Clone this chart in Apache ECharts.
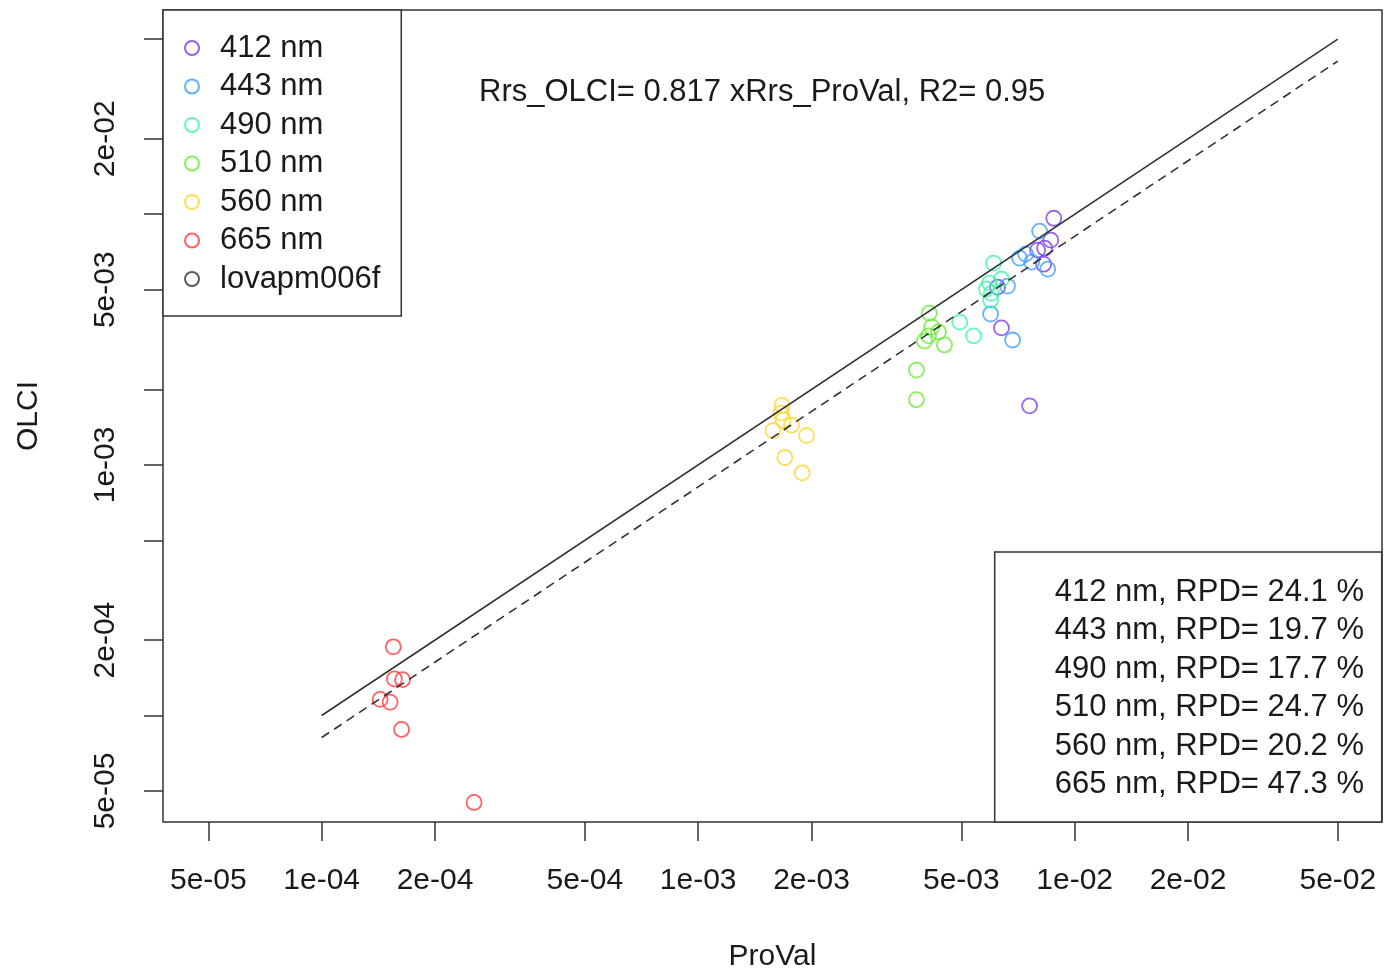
<!DOCTYPE html>
<html>
<head>
<meta charset="utf-8">
<title>OLCI vs ProVal</title>
<script src="https://cdn.jsdelivr.net/npm/echarts@6/dist/echarts.min.js"></script>
<style>html,body{margin:0;padding:0;background:#fff;}</style>
</head>
<body>
<div id="chart" style="width:1384px;height:970px;"></div>
<script>
// log ticks, same on both axes (R skips every other label on y, they would overlap)
var tickValues = [5e-5, 1e-4, 2e-4, 5e-4, 1e-3, 2e-3, 5e-3, 1e-2, 2e-2, 5e-2];
var tickLabels = ['5e-05', '1e-04', '2e-04', '5e-04', '1e-03', '2e-03', '5e-03', '1e-02', '2e-02', '5e-02'];
var yLabelValues = [5e-5, 2e-4, 1e-3, 5e-3, 2e-2];

var bands = ['412 nm', '443 nm', '490 nm', '510 nm', '560 nm', '665 nm', 'lovapm006f'];
var bandColors = ['#7a3df5', '#3d9eff', '#3df5a8', '#66ee33', '#ffd52e', '#ff3b3b', '#333333'];

// [ProVal, OLCI] pairs
var pts412 = [[8.80e-3, 9.64e-3], [8.64e-3, 7.88e-3], [8.32e-3, 7.32e-3], [7.97e-3, 7.19e-3],
              [8.27e-3, 6.32e-3], [6.24e-3, 5.12e-3], [6.39e-3, 3.52e-3], [7.59e-3, 1.72e-3]];
var pts443 = [[8.07e-3, 8.56e-3], [7.14e-3, 6.68e-3], [7.41e-3, 6.93e-3], [7.69e-3, 6.44e-3],
              [8.48e-3, 6.04e-3], [6.63e-3, 5.17e-3], [5.98e-3, 4.00e-3], [6.84e-3, 3.15e-3]];
var pts490 = [[6.09e-3, 6.38e-3], [6.39e-3, 5.51e-3], [5.94e-3, 5.31e-3], [5.83e-3, 5.03e-3],
              [6.01e-3, 4.84e-3], [5.98e-3, 4.54e-3], [4.95e-3, 3.71e-3], [5.39e-3, 3.27e-3]];
var pts510 = [[4.11e-3, 4.03e-3], [4.17e-3, 3.55e-3], [4.35e-3, 3.39e-3], [3.99e-3, 3.12e-3],
              [4.09e-3, 3.27e-3], [4.51e-3, 3.01e-3], [3.80e-3, 2.39e-3], [3.80e-3, 1.82e-3]];
var pts560 = [[1.67e-3, 1.73e-3], [1.66e-3, 1.61e-3], [1.68e-3, 1.51e-3], [1.77e-3, 1.44e-3],
              [1.58e-3, 1.37e-3], [1.94e-3, 1.31e-3], [1.70e-3, 1.07e-3], [1.89e-3, 9.29e-4]];
var pts665 = [[1.55e-4, 1.88e-4], [1.56e-4, 1.40e-4], [1.64e-4, 1.39e-4], [1.43e-4, 1.16e-4],
              [1.52e-4, 1.13e-4], [1.63e-4, 8.80e-5], [2.54e-4, 4.50e-5]];
var ptsStation = [];

var oneToOne = [[1e-4, 1e-4], [5e-2, 5e-2]];
var fitLine = [[1e-4, 8.17e-5], [5e-2, 4.085e-2]];
var fitSlope = '0.817', fitR2 = '0.95';
var rpd = ['24.1', '19.7', '17.7', '24.7', '20.2', '47.3'];

var font = 'Liberation Sans, Arial, Helvetica, sans-serif';
var ink = '#1a1a1a';

function tickLabel(v) {
    for (var i = 0; i < tickValues.length; i++) {
        if (Math.abs(Math.log10(v / tickValues[i])) < 1e-6) return tickLabels[i];
    }
    return '';
}

function logAxis(name, min, max, isY) {
    return {
        type: 'log',
        logBase: 10,
        min: min,
        max: max,
        name: name,
        nameLocation: 'middle',
        nameGap: isY ? 119 : 120,
        nameRotate: isY ? 90 : 0,
        nameTextStyle: {fontFamily: font, fontSize: 30, color: ink},
        axisLine: {show: false},
        splitLine: {show: false},
        minorTick: {show: false},
        axisTick: {
            show: true, inside: false, length: 19,
            customValues: tickValues,
            lineStyle: {color: '#333', width: 1.5}
        },
        axisLabel: {
            customValues: isY ? yLabelValues : tickValues,
            formatter: tickLabel,
            rotate: isY ? 90 : 0,
            margin: isY ? 42 : 44,
            fontFamily: font, fontSize: 30, color: ink
        }
    };
}

var seriesPts = [pts412, pts443, pts490, pts510, pts560, pts665, ptsStation];
var series = seriesPts.map(function (d, i) {
    return {
        name: bands[i],
        type: 'scatter',
        data: d,
        symbol: 'circle',
        symbolSize: 15,
        itemStyle: {color: 'rgba(255,255,255,0)', borderColor: bandColors[i], borderWidth: 1.8},
        emphasis: {disabled: true}
    };
});
series.push({
    type: 'line', data: oneToOne, symbol: 'none', silent: true,
    lineStyle: {color: '#333', width: 1.6}
});
series.push({
    type: 'line', data: fitLine, symbol: 'none', silent: true,
    lineStyle: {color: '#333', width: 1.6, type: [9, 6]}
});

var rpdText = rpd.map(function (r, i) {
    return bands[i] + ', RPD= ' + r + ' %';
}).join('\n');

var chart = echarts.init(document.getElementById('chart'));
chart.setOption({
    backgroundColor: '#fff',
    animation: false,
    grid: {
        left: 163, right: 2, top: 10, bottom: 148,
        show: true, borderColor: '#333', borderWidth: 1.5, backgroundColor: '#fff',
        outerBoundsMode: 'none'
    },
    xAxis: logAxis('ProVal', 3.79e-5, 0.0655, false),
    yAxis: logAxis('OLCI', 3.76e-5, 0.0653, true),
    legend: {
        data: bands,
        orient: 'vertical',
        left: 163, top: 10,
        padding: [22.5, 21, 21.5, 21],
        itemWidth: 14, itemHeight: 14,
        itemGap: 7.5,
        backgroundColor: '#fff',
        borderColor: '#333', borderWidth: 1.5,
        selectedMode: false,
        textStyle: {fontFamily: font, fontSize: 31, lineHeight: 31, color: ink, padding: [0, 0, 0, 16]}
    },
    title: [{
        text: 'Rrs_OLCI= ' + fitSlope + ' xRrs_ProVal, R2= ' + fitR2,
        left: 479, top: 77, padding: 0,
        textStyle: {fontFamily: font, fontSize: 31, fontWeight: 'normal', color: ink}
    }, {
        text: rpdText,
        right: 2, bottom: 148,
        padding: [21, 18, 18, 60],
        borderColor: '#333', borderWidth: 1.5, backgroundColor: '#fff',
        textStyle: {fontFamily: font, fontSize: 31, fontWeight: 'normal', lineHeight: 38.5, color: ink}
    }],
    series: series
});
</script>
</body>
</html>
